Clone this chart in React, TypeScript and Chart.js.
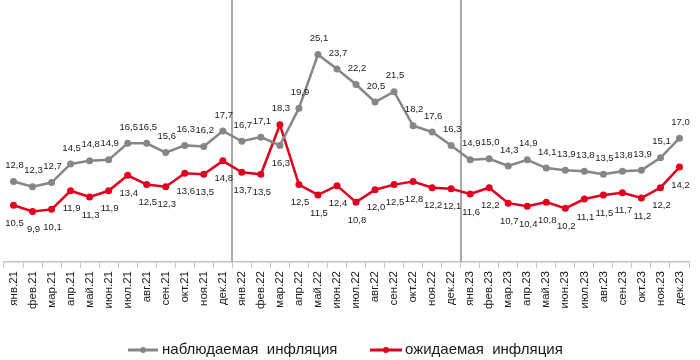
import React, { useEffect, useRef } from 'react';
import { Chart, registerables } from 'chart.js';

Chart.register(...registerables);

const months = [
  'янв.21', 'фев.21', 'мар.21', 'апр.21', 'май.21', 'июн.21', 'июл.21', 'авг.21', 'сен.21', 'окт.21', 'ноя.21', 'дек.21',
  'янв.22', 'фев.22', 'мар.22', 'апр.22', 'май.22', 'июн.22', 'июл.22', 'авг.22', 'сен.22', 'окт.22', 'ноя.22', 'дек.22',
  'янв.23', 'фев.23', 'мар.23', 'апр.23', 'май.23', 'июн.23', 'июл.23', 'авг.23', 'сен.23', 'окт.23', 'ноя.23', 'дек.23',
];

const observed = [
  12.8, 12.3, 12.7, 14.5, 14.8, 14.9, 16.5, 16.5, 15.6, 16.3, 16.2, 17.7,
  16.7, 17.1, 16.3, 19.9, 25.1, 23.7, 22.2, 20.5, 21.5, 18.2, 17.6, 16.3,
  14.9, 15.0, 14.3, 14.9, 14.1, 13.9, 13.8, 13.5, 13.8, 13.9, 15.1, 17.0,
];

const expected = [
  10.5, 9.9, 10.1, 11.9, 11.3, 11.9, 13.4, 12.5, 12.3, 13.6, 13.5, 14.8,
  13.7, 13.5, 18.3, 12.5, 11.5, 12.4, 10.8, 12.0, 12.5, 12.8, 12.2, 12.1,
  11.6, 12.2, 10.7, 10.4, 10.8, 10.2, 11.1, 11.5, 11.7, 11.2, 12.2, 14.2,
];

const seriesNames = ['наблюдаемая  инфляция', 'ожидаемая  инфляция'];
const yearBoundaries = [11.5, 23.5];

const GRAY = '#868686';
const RED = '#e1001e';
const FONT = "'Liberation Sans', Arial, sans-serif";

// label placement: observed above, expected below, except where lines cross
const flippedLabels: Record<number, Set<number>> = { 0: new Set([14]), 1: new Set([14]) };

const fmt = (v: number) => v.toFixed(1).replace('.', ',');

const separatorPlugin = {
  id: 'separators',
  beforeDatasetsDraw(chart: any) {
    const { ctx, chartArea, scales } = chart;
    ctx.save();
    ctx.strokeStyle = '#a9a9a9';
    ctx.lineWidth = 2;
    yearBoundaries.forEach((b) => {
      const x = Math.round(scales.x.getPixelForValue(b));
      ctx.beginPath();
      ctx.moveTo(x, 0);
      ctx.lineTo(x, chartArea.bottom);
      ctx.stroke();
    });
    ctx.restore();
  },
};

const labelsPlugin = {
  id: 'valueLabels',
  afterDatasetsDraw(chart: any) {
    const { ctx } = chart;
    ctx.save();
    ctx.font = `9.5px ${FONT}`;
    ctx.fillStyle = '#1a1a1a';
    ctx.textAlign = 'center';
    ctx.textBaseline = 'middle';
    chart.data.datasets.forEach((ds: any, di: number) => {
      const meta = chart.getDatasetMeta(di);
      meta.data.forEach((pt: any, i: number) => {
        const flip = flippedLabels[di].has(i);
        const above = di === 0 ? !flip : flip;
        const dy = above ? -16 : 18;
        ctx.fillText(fmt(ds.data[i]), pt.x + 1, pt.y + dy);
      });
    });
    ctx.restore();
  },
};

const legendPlugin = {
  id: 'customLegend',
  afterDraw(chart: any) {
    const { ctx } = chart;
    const y = 350;
    const items = [
      { color: GRAY, x0: 128, x1: 158, dot: 143, tx: 162, text: seriesNames[0] },
      { color: RED, x0: 370, x1: 402, dot: 386, tx: 405, text: seriesNames[1] },
    ];
    ctx.save();
    items.forEach((it) => {
      ctx.strokeStyle = it.color;
      ctx.lineWidth = 3;
      ctx.beginPath();
      ctx.moveTo(it.x0, y);
      ctx.lineTo(it.x1, y);
      ctx.stroke();
      ctx.fillStyle = it.color;
      ctx.beginPath();
      ctx.arc(it.dot, y, 3, 0, Math.PI * 2);
      ctx.fill();
      ctx.fillStyle = '#1a1a1a';
      ctx.font = `15px ${FONT}`;
      ctx.textAlign = 'left';
      ctx.textBaseline = 'middle';
      ctx.fillText(it.text, it.tx, y);
    });
    ctx.restore();
  },
};

export default function App() {
  const ref = useRef<HTMLCanvasElement>(null);

  useEffect(() => {
    if (!ref.current) return;
    const chart = new Chart(ref.current, {
      type: 'line',
      data: {
        labels: months,
        datasets: [
          {
            label: seriesNames[0],
            data: observed,
            borderColor: GRAY,
            backgroundColor: GRAY,
            borderWidth: 2.5,
            pointRadius: 3.5,
            pointBorderWidth: 0,
            pointBackgroundColor: GRAY,
            tension: 0,
          },
          {
            label: seriesNames[1],
            data: expected,
            borderColor: RED,
            backgroundColor: RED,
            borderWidth: 2.5,
            pointRadius: 3.5,
            pointBorderWidth: 0,
            pointBackgroundColor: RED,
            tension: 0,
          },
        ],
      },
      options: {
        responsive: true,
        maintainAspectRatio: false,
        animation: false,
        layout: { padding: { left: 3, right: 11, top: 0, bottom: 0 } },
        plugins: {
          legend: { display: false },
          tooltip: { enabled: false },
        },
        scales: {
          x: {
            offset: true,
            grid: {
              offset: true,
              drawOnChartArea: false,
              drawTicks: true,
              tickLength: 6,
              color: '#c4c4c4',
            },
            border: { color: '#c4c4c4', width: 1.5 },
            ticks: {
              autoSkip: false,
              minRotation: 90,
              maxRotation: 90,
              padding: 3,
              color: '#1a1a1a',
              font: { size: 11.5, family: FONT },
            },
            afterFit: (scale: any) => {
              scale.height = 98;
            },
          },
          y: {
            display: false,
            min: 5,
            max: 30,
          },
        },
      },
      plugins: [separatorPlugin, labelsPlugin, legendPlugin],
    });
    return () => chart.destroy();
  }, []);

  return (
    <div style={{ position: 'fixed', left: 0, top: 0, width: 700, height: 360, background: '#fff' }}>
      <canvas ref={ref} />
    </div>
  );
}
